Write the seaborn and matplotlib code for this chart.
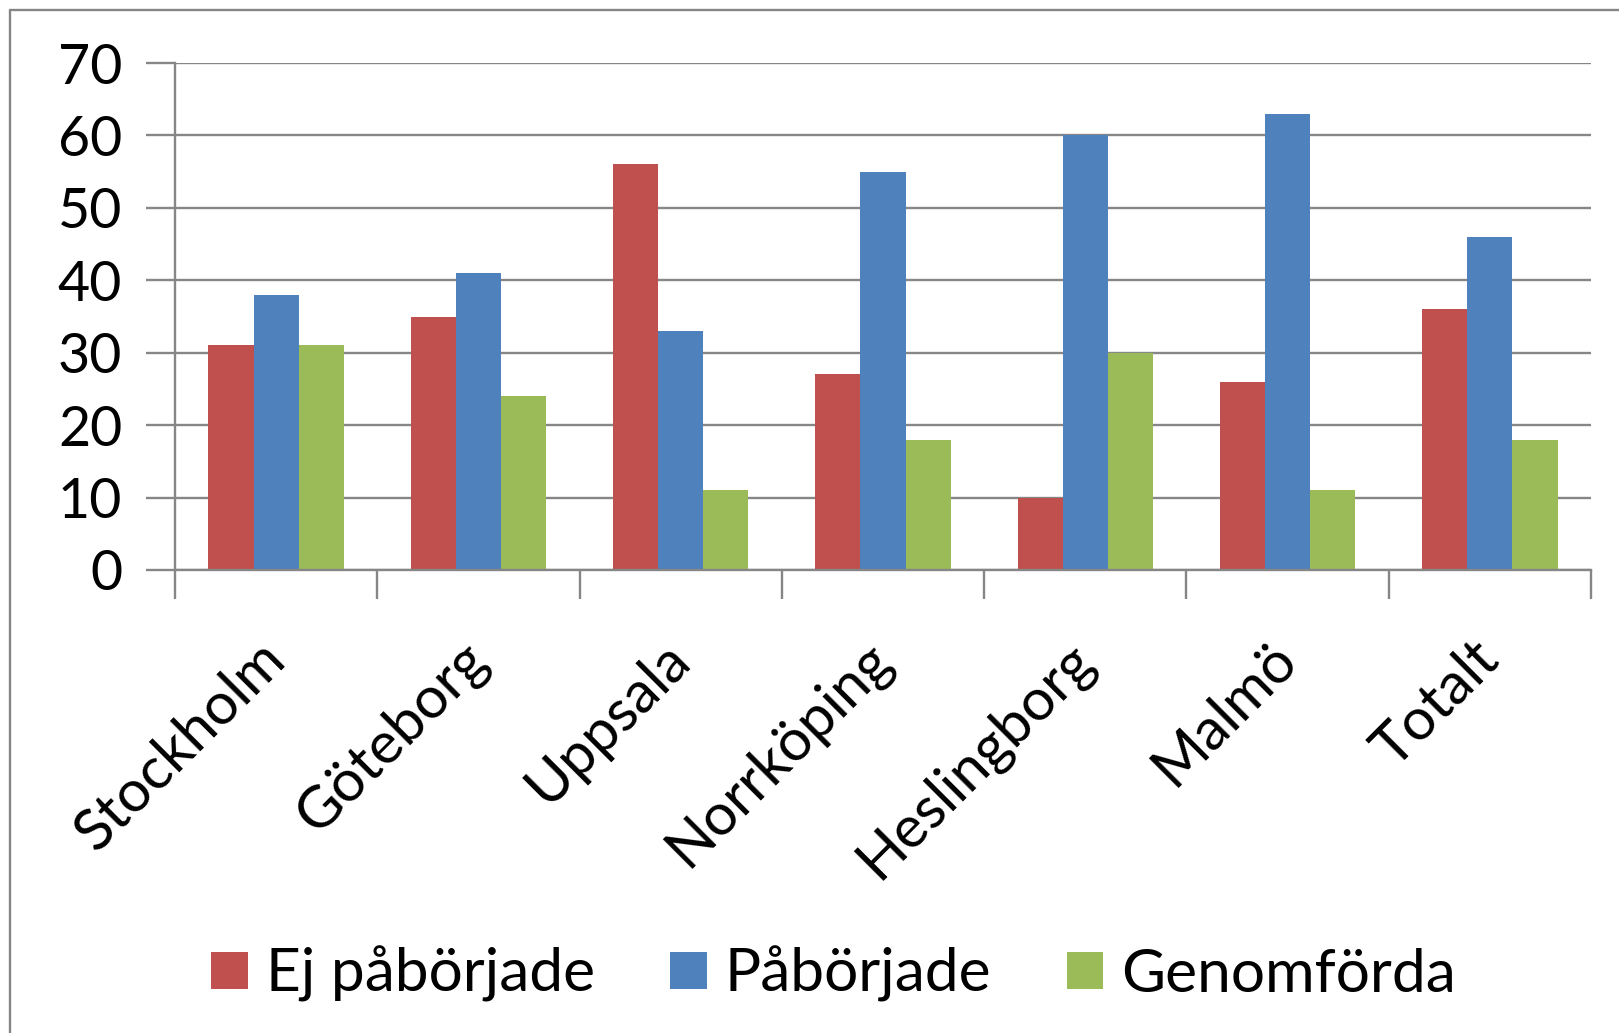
import matplotlib
matplotlib.use("Agg")
import matplotlib.pyplot as plt
import numpy as np
import pandas as pd
import seaborn as sns
from matplotlib.lines import Line2D
from matplotlib.patches import Patch

cities = ["Stockholm", "Göteborg", "Uppsala", "Norrköping", "Heslingborg", "Malmö", "Totalt"]
series = ["Ej påbörjade", "Påbörjade", "Genomförda"]
ej_paborjade = [31, 35, 56, 27, 10, 26, 36]
paborjade = [38, 41, 33, 55, 60, 63, 46]
genomforda = [31, 24, 11, 18, 30, 11, 18]
colors = ["#C0504D", "#4F81BD", "#9BBB59"]
y_ticks = [0, 10, 20, 30, 40, 50, 60, 70]

df = pd.DataFrame({
    "stad": cities * 3,
    "serie": [series[0]] * 7 + [series[1]] * 7 + [series[2]] * 7,
    "antal": ej_paborjade + paborjade + genomforda,
})

sns.set_theme(style="white")
plt.rcParams["font.family"] = ["Lato", "DejaVu Sans"]
grey = "#868686"

fig = plt.figure(figsize=(16.19, 10.33), dpi=100)
ax = fig.add_axes([175 / 1619, 1 - 570 / 1033, (1591 - 175) / 1619, (570 - 63) / 1033])

sns.barplot(data=df, x="stad", y="antal", hue="serie", palette=colors,
            width=0.67, gap=0, linewidth=0, saturation=1, ax=ax, legend=False)

ax.set_xlim(-0.5, len(cities) - 0.5)
ax.set_ylim(0, 70)
ax.set_yticks(y_ticks)
ax.yaxis.grid(True, color=grey, linewidth=1.7)
ax.set_axisbelow(True)
ax.set_xlabel("")
ax.set_ylabel("")

for side in ["top", "right"]:
    ax.spines[side].set_visible(False)
for side in ["left", "bottom"]:
    ax.spines[side].set_color(grey)
    ax.spines[side].set_linewidth(1.7)

ax.tick_params(axis="y", which="major", length=21, width=1.7, color=grey,
               labelsize=40, pad=17, left=True)
ax.set_xticks(np.arange(-0.5, len(cities)), minor=True)
ax.tick_params(axis="x", which="minor", length=21, width=1.7, color=grey, bottom=True)
ax.tick_params(axis="x", which="major", length=0, labelsize=42, pad=58)
ax.set_xticks(range(len(cities)))
ax.set_xticklabels(cities, rotation=45, ha="right", va="center", rotation_mode="anchor")
for lbl in ax.get_xticklabels() + ax.get_yticklabels():
    lbl.set_color("black")

handles = [Patch(facecolor=c, edgecolor="none") for c in colors]
fig.legend(handles, series, loc="center", bbox_to_anchor=(0.515, 1 - 974 / 1033),
           ncol=3, frameon=False, fontsize=43.5, handlelength=0.6, handleheight=0.55,
           handletextpad=0.3, columnspacing=1.25, labelcolor="black")

# outer chart frame
fig.add_artist(Line2D([10 / 1619, 1.0], [1 - 10 / 1033, 1 - 10 / 1033],
                      color=grey, linewidth=1.7, transform=fig.transFigure))
fig.add_artist(Line2D([10 / 1619, 10 / 1619], [0.0, 1 - 10 / 1033],
                      color=grey, linewidth=1.7, transform=fig.transFigure))

fig.savefig("out.png", dpi=100)
plt.close(fig)
